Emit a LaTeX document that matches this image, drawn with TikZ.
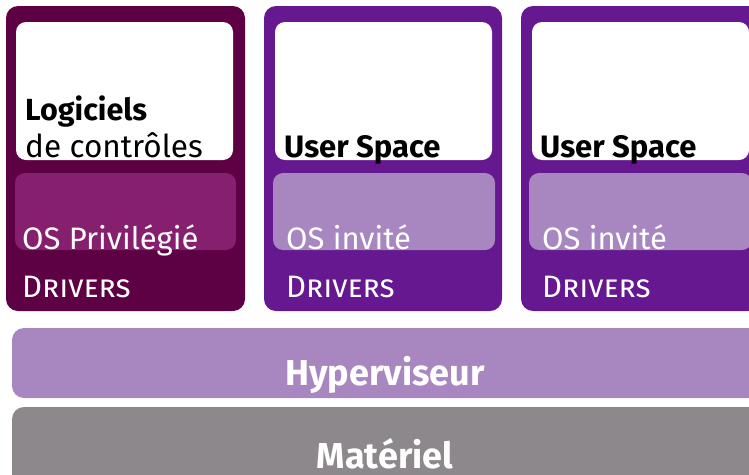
\documentclass[tikz,border=0pt]{standalone}
\usepackage{fontspec}
\setmainfont{Fira Sans}
\usepackage{graphicx}
\definecolor{darkbox}{RGB}{94,0,68}
\definecolor{pinkbox}{RGB}{135,31,111}
\definecolor{purplebox}{RGB}{101,24,143}
\definecolor{lightpurple}{RGB}{168,135,192}
\definecolor{greybar}{RGB}{140,136,140}
\tikzset{
  outerbox/.style={rounded corners=12pt},
  innerbox/.style={rounded corners=10pt},
  boxtext/.style={anchor=base west, inner sep=0pt, font=\fontsize{31}{34}\selectfont},
  bartext/.style={anchor=base, inner sep=0pt, text=white, font=\fontsize{36}{40}\selectfont\bfseries}
}
\begin{document}
\begin{tikzpicture}[x=1pt,y=-1pt]
\useasboundingbox (0,0) rectangle (749,474);
\begin{scope}
\clip (0,0) rectangle (749,474);
% box 1
\fill[darkbox,outerbox] (6,6) rectangle (245,311);
\fill[white,innerbox] (16,22) rectangle (233,160);
\fill[pinkbox,innerbox] (15,173) rectangle (236,250);
% box 2
\fill[purplebox,outerbox] (264,6) rectangle (502,311);
\fill[white,innerbox] (275,22) rectangle (492,160);
\fill[lightpurple,innerbox] (273,173) rectangle (495,250);
% box 3
\fill[purplebox,outerbox] (521,6) rectangle (760,311);
\fill[white,innerbox] (532,22) rectangle (749,160);
\fill[lightpurple,innerbox] (529,173) rectangle (752,250);
% bars
\fill[lightpurple,outerbox] (12,328) rectangle (760,398);
\fill[greybar,outerbox] (12,407) rectangle (760,490);
% texts box 1
\node[boxtext,font=\fontsize{30.5}{34}\selectfont\bfseries] (log) at (25,120) {Logiciels};
\node[boxtext,font=\fontsize{31.5}{34}\selectfont] (ctl) at (25,157) {de contrôles};
\node[boxtext,text=white] (os1) at (22,249) {OS Privilégié};
\node[boxtext,text=white] (dr1) at (22,297) {\addfontfeatures{Letters=SmallCaps}Drivers};
% texts box 2
\node[boxtext,font=\fontsize{31}{34}\selectfont\bfseries] (us2) at (284,157) {User Space};
\node[boxtext,text=white] (os2) at (286,249) {OS invité};
\node[boxtext,text=white] (dr2) at (286,297) {\addfontfeatures{Letters=SmallCaps}Drivers};
% texts box 3
\node[boxtext,font=\fontsize{31}{34}\selectfont\bfseries] (us3) at (540,157) {User Space};
\node[boxtext,text=white] (os3) at (542,249) {OS invité};
\node[boxtext,text=white] (dr3) at (542,297) {\addfontfeatures{Letters=SmallCaps}Drivers};
% bar texts
\node[bartext] (hyp) at (385,385) {Hyperviseur};
\node[bartext] (mat) at (385,468) {Matériel};
\end{scope}
\end{tikzpicture}
\end{document}
